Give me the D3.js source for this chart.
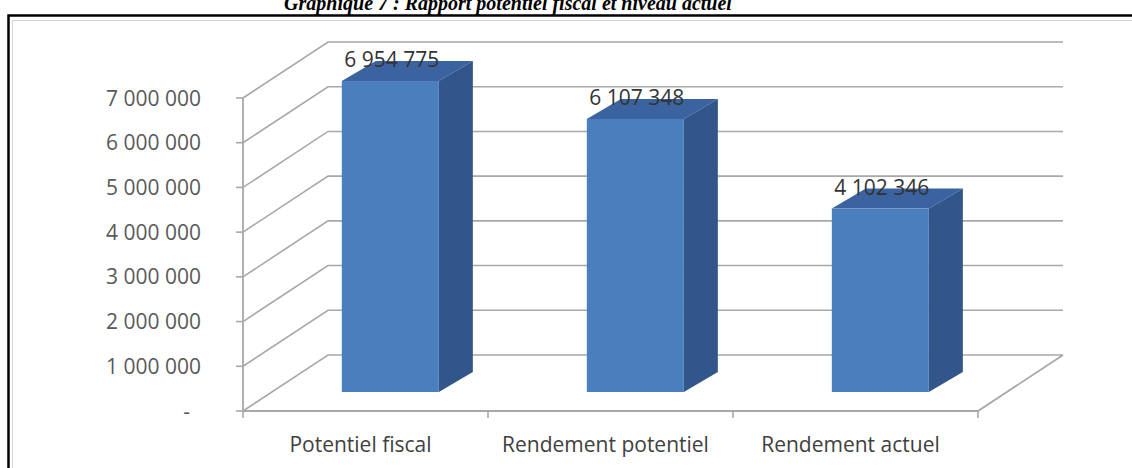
<!DOCTYPE html>
<html>
<head>
<meta charset="utf-8">
<script src="https://cdn.jsdelivr.net/npm/d3@7"></script>
<style>
  html, body { margin: 0; padding: 0; background: #fff; }
  svg { display: block; }
</style>
</head>
<body>
<svg id="chart" width="1132" height="468"></svg>
<script>
// Chart data
const categories = ["Potentiel fiscal", "Rendement potentiel", "Rendement actuel"];
const values = [6954775, 6107348, 4102346];
const valueLabels = ["6 954 775", "6 107 348", "4 102 346"];
const tickValues = [0, 1000000, 2000000, 3000000, 4000000, 5000000, 6000000, 7000000];
const tickLabels = ["-\u00a0\u00a0", "1 000 000", "2 000 000", "3 000 000", "4 000 000", "5 000 000", "6 000 000", "7 000 000"];
const title = "Graphique 7 : Rapport potentiel fiscal et niveau actuel";

const svg = d3.select("#chart");
const W = 1132, H = 468;

// Front plane scales
const x = d3.scaleBand().domain(categories).range([243, 978]);
const y = d3.scaleLinear().domain([0, 7000000]).range([411, 98]);

// Oblique depth of the walls and of the bars
const wallDX = 85, wallDY = -56;
const barShiftX = 29, barShiftY = -19;   // bar front face sits inside the floor
const barDX = 34, barDY = -20;           // bar thickness
const barInset = 0.285, barWidthFrac = 0.396;

const font = "'Open Sans', 'DejaVu Sans', sans-serif";
const gridColor = "#a8a8a8";

// Title, set just above the frame
svg.append("text")
  .attr("x", 508).attr("y", 10)
  .attr("text-anchor", "middle")
  .attr("font-family", "'Liberation Serif', 'Times New Roman', serif")
  .attr("font-weight", "bold").attr("font-style", "italic")
  .attr("font-size", 20).attr("fill", "#000")
  .text(title);

// Outer frame and chart-area border
svg.append("rect")
  .attr("x", 8.5).attr("y", 15.5).attr("width", W + 20).attr("height", H)
  .attr("fill", "none").attr("stroke", "#000").attr("stroke-width", 2.5);
svg.append("rect")
  .attr("x", 12.5).attr("y", 20.5).attr("width", W + 20).attr("height", H)
  .attr("fill", "none").attr("stroke", "#d4d4d4").attr("stroke-width", 1);

const g = svg.append("g");
const x0 = x.range()[0], x1 = x.range()[1];

// Side wall diagonals and back wall gridlines
tickValues.forEach(v => {
  const yf = y(v);
  g.append("path")
    .attr("d", `M${x0},${yf}L${x0 + wallDX},${yf + wallDY}L${x1 + wallDX},${yf + wallDY}`)
    .attr("fill", "none").attr("stroke", gridColor).attr("stroke-width", 1.6);
});

// Floor right edge and front edge
g.append("path")
  .attr("d", `M${x0},${y(0)}L${x1},${y(0)}L${x1 + wallDX},${y(0) + wallDY}`)
  .attr("fill", "none").attr("stroke", gridColor).attr("stroke-width", 1.8);

// Value axis line and ticks
g.append("line")
  .attr("x1", x0).attr("x2", x0).attr("y1", y(7000000)).attr("y2", y(0))
  .attr("stroke", gridColor).attr("stroke-width", 1.8);
g.selectAll(".ytick").data(tickValues).join("line")
  .attr("x1", x0 - 7).attr("x2", x0).attr("y1", d => y(d)).attr("y2", d => y(d))
  .attr("stroke", gridColor).attr("stroke-width", 1.6);
g.selectAll(".ylab").data(tickValues).join("text")
  .attr("x", 201).attr("y", d => y(d))
  .attr("dy", "0.36em")
  .attr("text-anchor", "end")
  .attr("font-family", font).attr("font-size", 21).attr("fill", "#595959")
  .text((d, i) => tickLabels[i]);

// Category ticks and labels
const catTicks = [x0].concat(categories.map(c => x(c) + x.bandwidth()));
g.selectAll(".xtick").data(catTicks).join("line")
  .attr("x1", d => d).attr("x2", d => d).attr("y1", y(0)).attr("y2", y(0) + 7)
  .attr("stroke", gridColor).attr("stroke-width", 1.6);
g.selectAll(".xlab").data(categories).join("text")
  .attr("x", d => x(d) + x.bandwidth() / 2 - 5).attr("y", 452)
  .attr("text-anchor", "middle")
  .attr("font-family", font).attr("font-size", 21).attr("fill", "#404040")
  .text(d => d);

// 3D bars
const bars = g.selectAll(".bar").data(categories).join("g");
bars.each(function (c, i) {
  const sel = d3.select(this);
  const L = x(c) + x.bandwidth() * barInset + barShiftX;
  const R = L + x.bandwidth() * barWidthFrac;
  const yT = y(values[i]) + barShiftY;
  const yB = y(0) + barShiftY;
  sel.append("path")
    .attr("d", `M${L},${yT}L${L + barDX},${yT + barDY}L${R + barDX},${yT + barDY}L${R},${yT}Z`)
    .attr("fill", "#3b63a0");
  sel.append("path")
    .attr("d", `M${R},${yT}L${R + barDX},${yT + barDY}L${R + barDX},${yB + barDY}L${R},${yB}Z`)
    .attr("fill", "#33568a");
  sel.append("rect")
    .attr("x", L).attr("y", yT).attr("width", R - L).attr("height", yB - yT)
    .attr("fill", "#4a7ebd");
  sel.append("text")
    .attr("x", L + 50).attr("y", yT - 14)
    .attr("text-anchor", "middle")
    .attr("font-family", font).attr("font-size", 21).attr("fill", "#333")
    .text(valueLabels[i]);
});
</script>
</body>
</html>
